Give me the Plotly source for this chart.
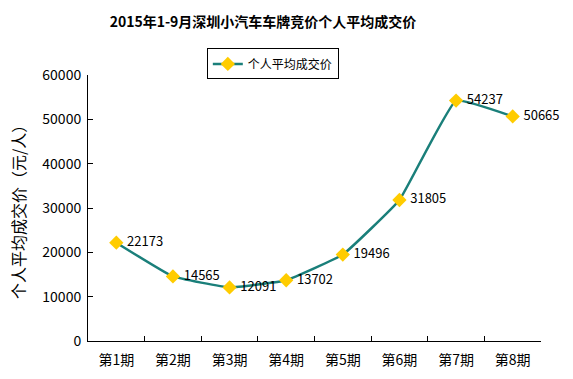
import plotly.graph_objects as go

categories = ["第1期", "第2期", "第3期", "第4期", "第5期", "第6期", "第7期", "第8期"]
values = [22173, 14565, 12091, 13702, 19496, 31805, 54237, 50665]
series_name = "个人平均成交价"
title_text = "2015年1-9月深圳小汽车车牌竞价个人平均成交价"
y_title = "个人平均成交价（元/人）"

font_family = "SimSun, 'Noto Sans CJK SC', sans-serif"

fig = go.Figure()
fig.add_trace(go.Scatter(
    x=categories, y=values, name=series_name,
    mode="lines+markers+text",
    line=dict(color="#1A7F7A", width=2.5, shape="spline", smoothing=0.3),
    marker=dict(symbol="diamond", size=11, color="#FFCC00", line=dict(width=0)),
    text=[" " + str(v) for v in values],
    textposition="middle right",
    textfont=dict(size=13, color="#000000", family=font_family),
    cliponaxis=False,
))

fig.update_layout(
    width=573, height=379,
    margin=dict(l=88, r=32, t=75, b=38, autoexpand=False),
    paper_bgcolor="white", plot_bgcolor="white",
    font=dict(family=font_family, color="#000000"),
    title=dict(text="<b>" + title_text + "</b>", x=263 / 573, xanchor="center",
               y=0.942, yanchor="middle", font=dict(size=14, color="#000000"),
               automargin=False),
    showlegend=True,
    legend=dict(orientation="h", x=0.408, xanchor="center", y=1.10, yanchor="top",
                bordercolor="#000000", borderwidth=1, bgcolor="white",
                font=dict(size=12), itemwidth=30, tracegroupgap=0),
    xaxis=dict(type="category", range=[-0.5, 7.5], showline=True, linecolor="#000000",
               linewidth=1, ticks="inside", ticklen=5, tickson="boundaries",
               tickcolor="#000000", showgrid=False, tickfont=dict(size=14),
               ticklabelstandoff=6, automargin=False),
    yaxis=dict(range=[0, 60000], dtick=10000, tickformat="d", showline=True,
               linecolor="#000000", linewidth=1, ticks="inside", ticklen=5,
               tickcolor="#000000", showgrid=False, zeroline=False,
               tickfont=dict(size=14), ticklabelstandoff=3, automargin=False),
    annotations=[dict(text=y_title, textangle=-90, xref="paper", yref="paper",
                      x=(18 - 88) / 453, y=0.5, xanchor="center", yanchor="middle",
                      showarrow=False, font=dict(size=16, color="#000000"))],
)

fig.write_html("out.html", config={"displayModeBar": False},
               post_script="document.body.style.margin='0';")
